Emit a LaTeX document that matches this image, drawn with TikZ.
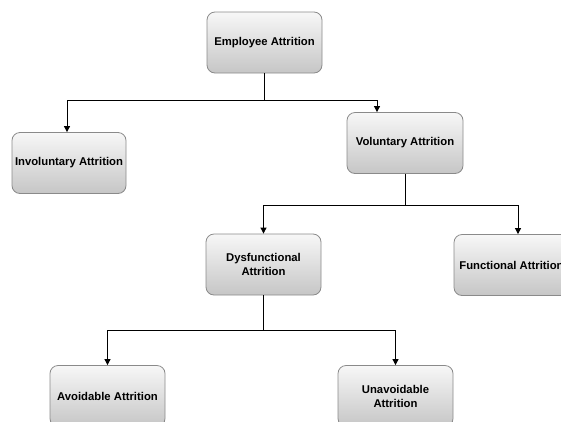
\documentclass[tikz,border=0pt]{standalone}
\usepackage{fontspec}
\setmainfont{Liberation Sans}
\usetikzlibrary{arrows.meta}
\definecolor{boxtop}{HTML}{F7F7F7}
\definecolor{boxbot}{HTML}{C6C6C6}
\definecolor{boxline}{HTML}{8A8A8A}
\begin{document}
\begin{tikzpicture}[x=1pt,y=-1pt,
  box/.style={draw=boxline, line width=0.8pt, rounded corners=8pt,
    top color=boxtop, bottom color=boxbot, minimum width=115pt, minimum height=61pt,
    inner sep=2pt, align=center, font=\fontsize{11.3}{14}\selectfont\bfseries},
  conn/.style={black, line width=0.8pt},
  arr/.style={conn, -{Triangle[length=6pt,width=6pt]}}]
\useasboundingbox (0,0) rectangle (561,421);
\begin{scope}
\clip (0,0) rectangle (561,421);
\node[box] (emp) at (264.5,42.5) {Employee Attrition};
\node[box, minimum width=114pt] (inv) at (69,163) {Involuntary Attrition};
\node[box, minimum width=116pt] (vol) at (405,143) {Voluntary Attrition};
\node[box] (dys) at (263.5,264.5) {Dysfunctional\\Attrition};
\node[box] (fun) at (511.5,265) {Functional Attrition};
\node[box] (avo) at (107.5,396) {Avoidable Attrition};
\node[box] (una) at (395.5,396) {Unavoidable\\Attrition};
\end{scope}
\coordinate (j1) at (264.5,100);
\coordinate (j2) at (405,205);
\coordinate (j3) at (263.5,330);
\draw[conn] (emp.south) -- (j1);
\draw[arr] (j1) -| ([xshift=-2pt]inv.north);
\draw[arr] (j1) -| ([xshift=-28pt]vol.north);
\draw[conn] (vol.south) -- (j2);
\draw[arr] (j2) -| (dys.north);
\draw[arr] (j2) -| ([xshift=6.5pt]fun.north);
\draw[conn] (dys.south) -- (j3);
\draw[arr] (j3) -| (avo.north);
\draw[arr] (j3) -| (una.north);
\end{tikzpicture}
\end{document}
